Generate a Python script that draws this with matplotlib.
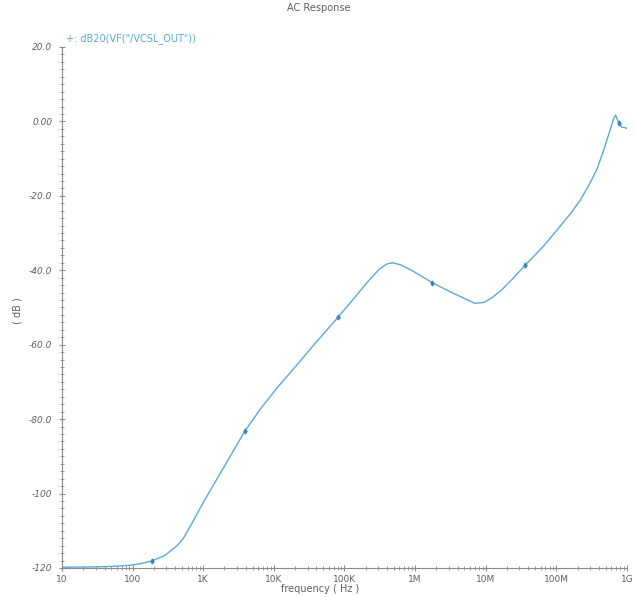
import numpy as np
import matplotlib
matplotlib.use("Agg")
import matplotlib.pyplot as plt
from matplotlib.ticker import FixedLocator, LogLocator, MultipleLocator, NullFormatter

# curve (frequency in Hz, magnitude in dB)
freq = [10, 32, 63, 100, 141, 186, 282, 422, 525, 724,
        1000, 1585, 2512, 3890, 6310, 11200, 20000, 39800, 81300, 126000,
        229000, 316000, 398000, 479000, 617000, 891000, 1.74e6, 3.16e6, 5.01e6, 7.08e6,
        9.55e6, 1.26e7, 1.70e7, 2.51e7, 3.63e7, 6.31e7, 1.02e8, 1.58e8, 2.19e8, 2.95e8,
        3.72e8, 4.47e8, 5.13e8, 5.89e8, 6.46e8, 6.92e8, 7.59e8, 8.51e8, 9.12e8, 1.0e9]
db = [-119.8, -119.7, -119.5, -119.2, -118.7, -118.1, -116.7, -114.1, -112.0, -107.3,
      -102.4, -95.9, -89.4, -83.2, -77.5, -71.5, -66.0, -59.3, -52.6, -48.3,
      -42.4, -39.6, -38.3, -38.0, -38.5, -40.0, -43.3, -45.8, -47.6, -48.9,
      -48.6, -47.2, -45.2, -41.9, -38.6, -33.9, -29.2, -24.8, -21.1, -16.8,
      -13.0, -8.8, -5.3, -1.8, 0.8, 1.7, -0.3, -1.6, -1.6, -1.9]
marker_idx = [5, 13, 18, 26, 34, 46]

x_ticks = [1e1, 1e2, 1e3, 1e4, 1e5, 1e6, 1e7, 1e8, 1e9]
x_labels = ["10", "100", "1K", "10K", "100K", "1M", "10M", "100M", "1G"]
y_ticks = [20, 0, -20, -40, -60, -80, -100, -120]
y_labels = ["20.0", "0.00", "-20.0", "-40.0", "-60.0", "-80.0", "-100", "-120"]

line_color = "#5aaad8"
axis_color = "#8a8a8a"
text_color = "#606060"

fig = plt.figure(figsize=(6.37, 5.97), dpi=100)
ax = fig.add_axes([0.0973, 0.0486, 0.887, 0.8727])

ax.plot(freq, db, color=line_color, linewidth=1.0,
        marker="d", markersize=2.5, markevery=marker_idx,
        markerfacecolor="#3a86c0", markeredgecolor="#3a86c0")

ax.set_xscale("log")
ax.set_xlim(10, 1e9)
ax.set_ylim(-120, 20)

ax.xaxis.set_major_locator(FixedLocator(x_ticks))
ax.set_xticklabels(x_labels)
ax.xaxis.set_minor_locator(LogLocator(base=10, subs=np.arange(2, 10)))
ax.xaxis.set_minor_formatter(NullFormatter())
ax.set_yticks(y_ticks)
ax.set_yticklabels(y_labels, style="italic")
ax.yaxis.set_minor_locator(MultipleLocator(2))

for s in ["top", "right"]:
    ax.spines[s].set_visible(False)
for s in ["left", "bottom"]:
    ax.spines[s].set_color(axis_color)
    ax.spines[s].set_linewidth(0.8)

ax.tick_params(which="major", direction="inout", length=4, width=0.8,
               color=axis_color, labelcolor=text_color, labelsize=6.5, pad=5)
ax.tick_params(axis="x", which="major", pad=3)
ax.tick_params(which="minor", direction="inout", length=3, width=0.6,
               color=axis_color)

fig.text(0.503, 0.013, "frequency ( Hz )", ha="center", va="center",
         fontsize=7, color=text_color)
fig.text(0.028, 0.48, "( dB )", ha="center", va="center", rotation=90,
         fontsize=7, color=text_color)
fig.text(0.5, 0.987, "AC Response", ha="center", va="center",
         fontsize=7, color=text_color)
fig.text(0.103, 0.936, "+: dB20(VF(\"/VCSL_OUT\"))", ha="left", va="center",
         fontsize=7, color=line_color)

fig.savefig("out.png", dpi=100)
